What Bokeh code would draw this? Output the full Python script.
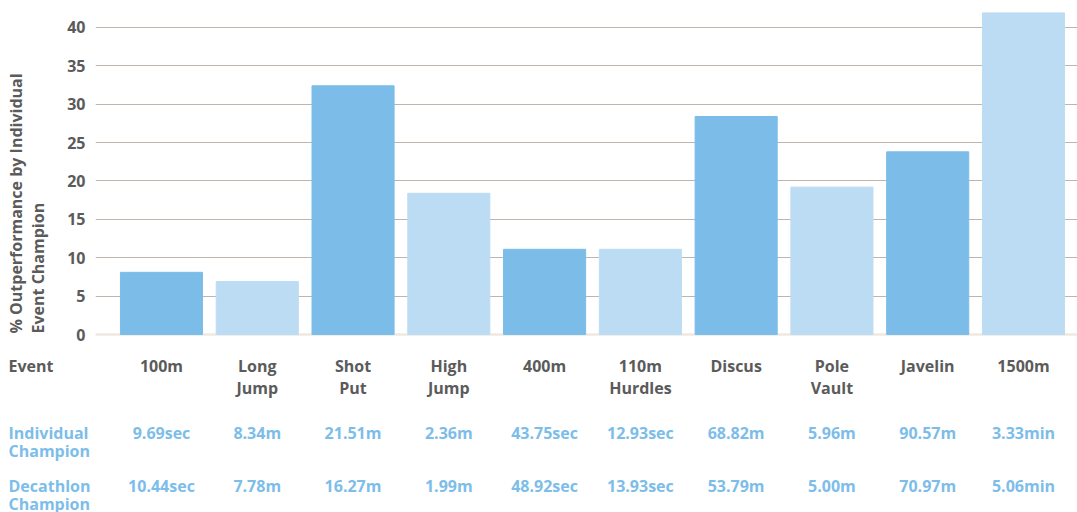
import numpy as np
from bokeh.plotting import figure
from bokeh.layouts import row
from bokeh.models import Range1d, FixedTicker, Span, ColumnDataSource
from bokeh.core.properties import value
from bokeh.embed import file_html
from bokeh.resources import INLINE

# ---------------- data ----------------
events = ["100m", "Long\nJump", "Shot\nPut", "High\nJump", "400m",
          "110m\nHurdles", "Discus", "Pole\nVault", "Javelin", "1500m"]
outperformance = [8.1, 6.9, 32.4, 18.4, 11.1, 11.1, 28.4, 19.2, 23.8, 52.0]
individual = ["9.69sec", "8.34m", "21.51m", "2.36m", "43.75sec",
              "12.93sec", "68.82m", "5.96m", "90.57m", "3.33min"]
decathlon = ["10.44sec", "7.78m", "16.27m", "1.99m", "48.92sec",
             "13.93sec", "53.79m", "5.00m", "70.97m", "5.06min"]
shade = ["dark", "light", "dark", "light", "dark",
         "light", "dark", "light", "dark", "light"]
y_ticks = [0, 5, 10, 15, 20, 25, 30, 35, 40]
row_headers = ["Event", "Individual\nChampion", "Decathlon\nChampion"]
y_title = "% Outperformance by Individual\nEvent Champion"

# ---------------- styles / layout ----------------
FONT = "Open Sans"
FS = "16px"
GRAY = "#5b5b5b"
BLUE_TXT = "#7dbde9"
COLORS = {"dark": "#7bbde8", "light": "#bcdcf4"}
H = 512
TOP, CHART_BOTTOM = 12, 335
LEFT_W = 95
Y0, Y1 = -0.13, 41.95
PPU = (CHART_BOTTOM - TOP) / (Y1 - Y0)
ROW_TOP_PX = [354, 421, 474]          # top of each table row (pixels)


def px_to_y(px):
    return Y1 - (px - TOP) / PPU


row_y = [px_to_y(v) for v in ROW_TOP_PX]
y_range = Range1d(Y0 - (H - CHART_BOTTOM) / PPU, Y1)

xs = list(np.arange(len(events)) + 0.5)
src = ColumnDataSource(dict(x=xs, top=outperformance,
                            color=[COLORS[s] for s in shade]))

TXT = dict(text_font=value(FONT), text_font_style="bold", text_font_size=FS)

# ---------------- main chart ----------------
p = figure(width=1077 - LEFT_W, height=H, output_backend="svg",
           toolbar_location=None,
           x_range=Range1d(-0.189, 10.064), y_range=y_range,
           min_border_left=0, min_border_right=0, min_border_top=TOP,
           min_border_bottom=0, outline_line_color=None,
           x_axis_location=None, y_axis_location=None)

p.vbar(x="x", top="top", bottom=0, width=0.857, color="color", source=src)

p.xgrid.grid_line_color = None
p.ygrid.ticker = FixedTicker(ticks=y_ticks)
p.ygrid.grid_line_color = "#bfb5ad"
p.ygrid.grid_line_width = 1.2
p.add_layout(Span(location=0, dimension="width", line_color="#efe9e3",
                  line_width=2.5, level="underlay"))

# table rows below the bars
p.text(x=xs, y=[row_y[0]] * len(xs), text=events, text_color=GRAY,
       text_align="center", text_baseline="top", text_line_height=1.0, **TXT)
p.text(x=xs, y=[row_y[1]] * len(xs), text=individual, text_color=BLUE_TXT,
       text_align="center", text_baseline="top", **TXT)
p.text(x=xs, y=[row_y[2]] * len(xs), text=decathlon, text_color=BLUE_TXT,
       text_align="center", text_baseline="top", **TXT)

# ---------------- left panel: y tick labels, y title, row headers ----------------
L = figure(width=LEFT_W, height=H, output_backend="svg", toolbar_location=None,
           x_range=Range1d(0, LEFT_W), y_range=y_range,
           min_border_left=0, min_border_right=0, min_border_top=TOP,
           min_border_bottom=0, outline_line_color=None,
           x_axis_location=None, y_axis_location=None)
L.xgrid.grid_line_color = None
L.ygrid.grid_line_color = None

L.text(x=[85] * len(y_ticks), y=y_ticks, text=[str(t) for t in y_ticks],
       text_color=GRAY, text_align="right", text_baseline="middle", **TXT)

L.text(x=[26], y=[px_to_y(333)], text=[y_title], angle=np.pi / 2,
       text_color=GRAY, text_align="left", text_baseline="middle",
       text_line_height=1.0, **TXT)

L.text(x=[8] * 3, y=row_y, text=row_headers,
       text_color=[GRAY, BLUE_TXT, BLUE_TXT], text_align="left",
       text_baseline="top", text_line_height=0.83, **TXT)

layout = row(L, p, spacing=0)
open("out.html", "w").write(file_html(layout, INLINE))
